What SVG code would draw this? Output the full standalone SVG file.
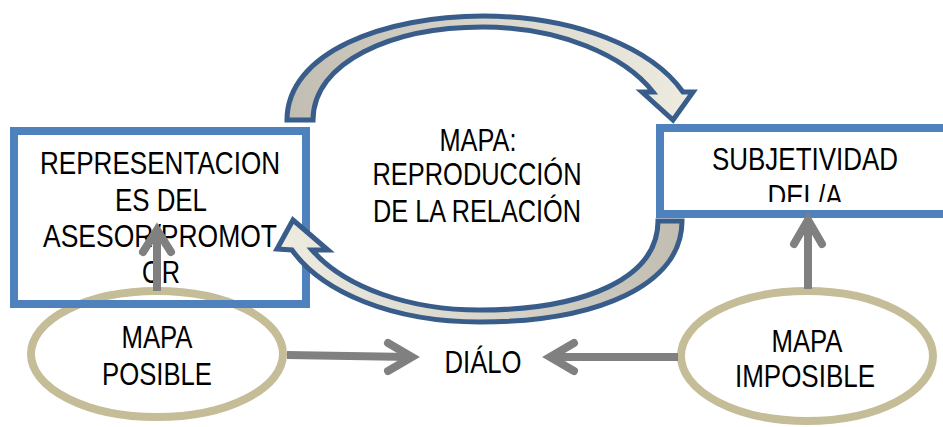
<svg xmlns="http://www.w3.org/2000/svg" width="943" height="427" viewBox="0 0 943 427">
<style>
  text { font-family: "Liberation Sans", Arial, sans-serif; font-size: 31px; fill: #000; text-anchor: middle; }
  .box { fill: none; stroke: #4f81bd; stroke-width: 8; }
  .ell { fill: #fff; stroke: #c4bd97; stroke-width: 8; }
  .curve { stroke: #385d8a; stroke-width: 5; stroke-linejoin: miter; }
  .ln { fill: none; stroke: #808080; stroke-width: 8; }
  .hd { fill: none; stroke: #808080; stroke-width: 8; stroke-linecap: round; stroke-linejoin: miter; }
</style>
<defs>
  <linearGradient id="gTop" x1="287" y1="0" x2="693" y2="0" gradientUnits="userSpaceOnUse">
    <stop offset="0" stop-color="#c1bdb2"/>
    <stop offset="0.5" stop-color="#d9d6cc"/>
    <stop offset="1" stop-color="#eeece1"/>
  </linearGradient>
  <linearGradient id="gBot" x1="277" y1="0" x2="682" y2="0" gradientUnits="userSpaceOnUse">
    <stop offset="0" stop-color="#eeece1"/>
    <stop offset="0.5" stop-color="#d9d6cc"/>
    <stop offset="1" stop-color="#c1bdb2"/>
  </linearGradient>
  <clipPath id="clipR"><rect x="660" y="128" width="283" height="74"/></clipPath>
</defs>

<g id="mapa-posible">
  <ellipse class="ell" cx="157" cy="354" rx="126" ry="63"/>
  <text x="157" y="348" textLength="71" lengthAdjust="spacingAndGlyphs">MAPA</text>
  <text x="157" y="385" textLength="110" lengthAdjust="spacingAndGlyphs">POSIBLE</text>
</g>

<g id="mapa-imposible">
  <ellipse class="ell" cx="807" cy="356" rx="126" ry="65"/>
  <text x="807" y="352" textLength="71" lengthAdjust="spacingAndGlyphs">MAPA</text>
  <text x="805" y="387" textLength="140" lengthAdjust="spacingAndGlyphs">IMPOSIBLE</text>
</g>

<g id="representaciones">
  <rect class="box" x="14" y="131" width="292" height="173"/>
  <text x="160" y="174" textLength="240" lengthAdjust="spacingAndGlyphs">REPRESENTACION</text>
  <text x="161" y="211" textLength="92" lengthAdjust="spacingAndGlyphs">ES DEL</text>
  <text x="160" y="247" textLength="234" lengthAdjust="spacingAndGlyphs">ASESOR/PROMOT</text>
  <text x="161" y="283" textLength="38" lengthAdjust="spacingAndGlyphs">OR</text>
</g>

<g id="subjetividad">
  <rect class="box" x="660" y="128" width="300" height="86"/>
  <text x="805" y="170" textLength="186" lengthAdjust="spacingAndGlyphs">SUBJETIVIDAD</text>
  <text x="805" y="207" textLength="75" lengthAdjust="spacingAndGlyphs" clip-path="url(#clipR)">DEL/A</text>
</g>

<g id="mapa-reproduccion">
  <text x="478" y="151" textLength="77" lengthAdjust="spacingAndGlyphs">MAPA:</text>
  <text x="477" y="185" textLength="209" lengthAdjust="spacingAndGlyphs">REPRODUCCIÓN</text>
  <text x="477" y="222" textLength="208" lengthAdjust="spacingAndGlyphs">DE LA RELACIÓN</text>
</g>

<g id="dialo">
  <text x="483" y="373" textLength="77" lengthAdjust="spacingAndGlyphs">DIÁLO</text>
</g>

<g id="connectors">
  <path class="curve" fill="url(#gTop)" d="M 287,120 C 287,52 385,16 483,16 C 575,16 652,48 683,92 L 693,92 L 673,120 L 642,92 L 653,92 C 625,56 560,27 483,27 C 392,27 313,62 313,120 Z"/>
  <path class="curve" fill="url(#gBot)" d="M 682,221 C 682,285 598,322 480,322 C 392,322 322,292 292,250 L 277,249 L 293,220 L 328,250 L 312,250 C 345,288 410,310 480,310 C 585,310 658,278 658,221 Z"/>
  <line class="ln" x1="287" y1="355" x2="410" y2="357"/>
  <polyline class="hd" points="388,343 412,357 388,371"/>
  <line class="ln" x1="678" y1="357" x2="553" y2="357"/>
  <polyline class="hd" points="574,343 550,357 574,371"/>
  <line class="ln" x1="157" y1="291" x2="157" y2="232"/>
  <polyline class="hd" points="143,252 157,230 171,252"/>
  <line class="ln" x1="808" y1="289" x2="808" y2="221"/>
  <polyline class="hd" points="794,244 808,220 822,244"/>
</g>
</svg>
